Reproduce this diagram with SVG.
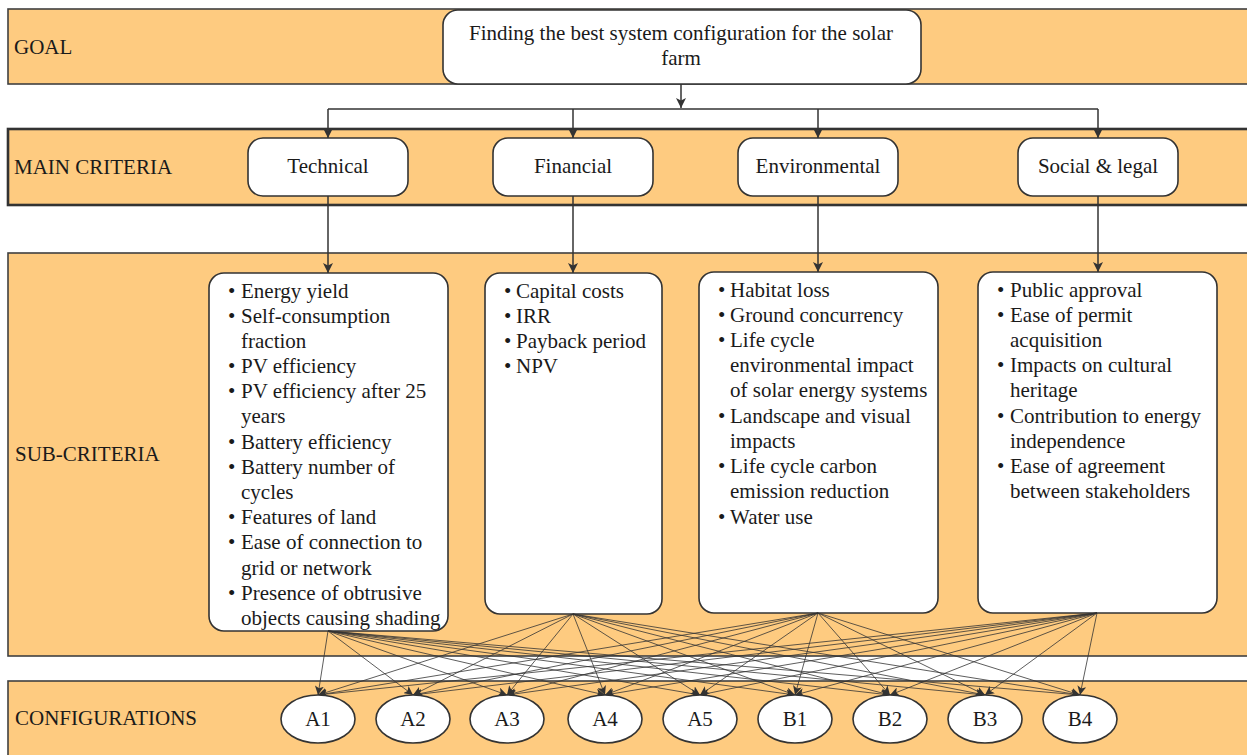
<svg xmlns="http://www.w3.org/2000/svg" width="1247" height="755" viewBox="0 0 1247 755">
<style>
.band{fill:#FECB80;stroke:#404040;stroke-width:1.6}
.band2{fill:#FECB80;stroke:#333;stroke-width:2.6}
.box{fill:#fff;stroke:#333;stroke-width:1.6}
.t{font-family:"Liberation Serif","Times New Roman",serif;font-size:21px;fill:#1a1a1a}
.c{text-anchor:middle}
.ln{stroke:#333;stroke-width:1.5;fill:none}
.mesh{stroke:#333;stroke-width:0.8;fill:none}
</style>
<defs>
<marker id="ah" viewBox="0 0 10 10" refX="10" refY="5" markerWidth="10" markerHeight="10" orient="auto" markerUnits="userSpaceOnUse">
<path d="M0,0 L10,5 L0,10 L2.5,5 z" fill="#333"/>
</marker>
<marker id="ahs" viewBox="0 0 10 10" refX="10" refY="5" markerWidth="9" markerHeight="9" orient="auto" markerUnits="userSpaceOnUse">
<path d="M0,0 L10,5 L0,10 L2.5,5 z" fill="#333"/>
</marker>
</defs>
<rect width="1247" height="755" fill="#fff"/>

<g id="bands">
<rect class="band" x="8" y="9" width="1250" height="75"/>
<rect class="band2" x="8" y="129" width="1250" height="76"/>
<rect class="band" x="8" y="253" width="1250" height="403"/>
<rect class="band" x="8" y="681" width="1250" height="90"/>
<text class="t" x="14" y="54">GOAL</text>
<text class="t" x="14" y="174">MAIN CRITERIA</text>
<text class="t" x="15" y="461">SUB-CRITERIA</text>
<text class="t" x="15" y="725">CONFIGURATIONS</text>
</g>

<g id="goal">
<rect class="box" x="443" y="10" width="478" height="74" rx="15"/>
<text class="t c" x="681" y="40">Finding the best system configuration for the solar</text>
<text class="t c" x="681" y="65">farm</text>
</g>

<g id="technical">
<rect class="box" x="248" y="138" width="160" height="58" rx="15"/>
<text class="t c" x="328" y="173">Technical</text>
</g>
<g id="financial">
<rect class="box" x="493" y="138" width="160" height="58" rx="15"/>
<text class="t c" x="573" y="173">Financial</text>
</g>
<g id="environmental">
<rect class="box" x="738" y="138" width="160" height="58" rx="15"/>
<text class="t c" x="818" y="173">Environmental</text>
</g>
<g id="social">
<rect class="box" x="1018" y="138" width="160" height="58" rx="15"/>
<text class="t c" x="1098" y="173">Social &amp; legal</text>
</g>

<g id="sub-technical">
<rect class="box" x="209" y="273" width="239" height="358" rx="15"/>
<g class="t">
<text x="228" y="298">•</text><text x="241" y="298">Energy yield</text>
<text x="228" y="323">•</text><text x="241" y="323">Self-consumption</text>
<text x="241" y="348">fraction</text>
<text x="228" y="373">•</text><text x="241" y="373">PV efficiency</text>
<text x="228" y="398">•</text><text x="241" y="398">PV efficiency after 25</text>
<text x="241" y="423">years</text>
<text x="228" y="449">•</text><text x="241" y="449">Battery efficiency</text>
<text x="228" y="474">•</text><text x="241" y="474">Battery number of</text>
<text x="241" y="499">cycles</text>
<text x="228" y="524">•</text><text x="241" y="524">Features of land</text>
<text x="228" y="549">•</text><text x="241" y="549">Ease of connection to</text>
<text x="241" y="575">grid or network</text>
<text x="228" y="600">•</text><text x="241" y="600">Presence of obtrusive</text>
<text x="241" y="625">objects causing shading</text>
</g>
</g>

<g id="sub-financial">
<rect class="box" x="485" y="273" width="177" height="341" rx="15"/>
<g class="t">
<text x="504" y="298">•</text><text x="516" y="298">Capital costs</text>
<text x="504" y="323">•</text><text x="516" y="323">IRR</text>
<text x="504" y="348">•</text><text x="516" y="348">Payback period</text>
<text x="504" y="373">•</text><text x="516" y="373">NPV</text>
</g>
</g>

<g id="sub-environmental">
<rect class="box" x="699" y="272" width="239" height="341" rx="15"/>
<g class="t">
<text x="718" y="297">•</text><text x="730" y="297">Habitat loss</text>
<text x="718" y="322">•</text><text x="730" y="322">Ground concurrency</text>
<text x="718" y="347">•</text><text x="730" y="347">Life cycle</text>
<text x="730" y="372">environmental impact</text>
<text x="730" y="397">of solar energy systems</text>
<text x="718" y="423">•</text><text x="730" y="423">Landscape and visual</text>
<text x="730" y="448">impacts</text>
<text x="718" y="473">•</text><text x="730" y="473">Life cycle carbon</text>
<text x="730" y="498">emission reduction</text>
<text x="718" y="524">•</text><text x="730" y="524">Water use</text>
</g>
</g>

<g id="sub-social">
<rect class="box" x="978" y="272" width="239" height="341" rx="15"/>
<g class="t">
<text x="997" y="297">•</text><text x="1010" y="297">Public approval</text>
<text x="997" y="322">•</text><text x="1010" y="322">Ease of permit</text>
<text x="1010" y="347">acquisition</text>
<text x="997" y="372">•</text><text x="1010" y="372">Impacts on cultural</text>
<text x="1010" y="397">heritage</text>
<text x="997" y="423">•</text><text x="1010" y="423">Contribution to energy</text>
<text x="1010" y="448">independence</text>
<text x="997" y="473">•</text><text x="1010" y="473">Ease of agreement</text>
<text x="1010" y="498">between stakeholders</text>
</g>
</g>

<g id="connectors">
<path class="ln" d="M681,84 L681,108" marker-end="url(#ah)"/>
<path class="ln" d="M328,109 L1098,109"/>
<path class="ln" d="M328,109 L328,138" marker-end="url(#ah)"/>
<path class="ln" d="M573,109 L573,138" marker-end="url(#ah)"/>
<path class="ln" d="M818,109 L818,138" marker-end="url(#ah)"/>
<path class="ln" d="M1098,109 L1098,138" marker-end="url(#ah)"/>
<path class="ln" d="M328,196 L328,273" marker-end="url(#ah)"/>
<path class="ln" d="M573,196 L573,273" marker-end="url(#ah)"/>
<path class="ln" d="M818,196 L818,272" marker-end="url(#ah)"/>
<path class="ln" d="M1098,196 L1098,272" marker-end="url(#ah)"/>
<g class="mesh">
<path d="M328,631 L318,695" marker-end="url(#ahs)"/>
<path d="M328,631 L413,695" marker-end="url(#ahs)"/>
<path d="M328,631 L507,695" marker-end="url(#ahs)"/>
<path d="M328,631 L605,695" marker-end="url(#ahs)"/>
<path d="M328,631 L700,695" marker-end="url(#ahs)"/>
<path d="M328,631 L795,695" marker-end="url(#ahs)"/>
<path d="M328,631 L890,695" marker-end="url(#ahs)"/>
<path d="M328,631 L985,695" marker-end="url(#ahs)"/>
<path d="M328,631 L1080,695" marker-end="url(#ahs)"/>
<path d="M573,614 L318,695" marker-end="url(#ahs)"/>
<path d="M573,614 L413,695" marker-end="url(#ahs)"/>
<path d="M573,614 L507,695" marker-end="url(#ahs)"/>
<path d="M573,614 L605,695" marker-end="url(#ahs)"/>
<path d="M573,614 L700,695" marker-end="url(#ahs)"/>
<path d="M573,614 L795,695" marker-end="url(#ahs)"/>
<path d="M573,614 L890,695" marker-end="url(#ahs)"/>
<path d="M573,614 L985,695" marker-end="url(#ahs)"/>
<path d="M573,614 L1080,695" marker-end="url(#ahs)"/>
<path d="M818,613 L318,695" marker-end="url(#ahs)"/>
<path d="M818,613 L413,695" marker-end="url(#ahs)"/>
<path d="M818,613 L507,695" marker-end="url(#ahs)"/>
<path d="M818,613 L605,695" marker-end="url(#ahs)"/>
<path d="M818,613 L700,695" marker-end="url(#ahs)"/>
<path d="M818,613 L795,695" marker-end="url(#ahs)"/>
<path d="M818,613 L890,695" marker-end="url(#ahs)"/>
<path d="M818,613 L985,695" marker-end="url(#ahs)"/>
<path d="M818,613 L1080,695" marker-end="url(#ahs)"/>
<path d="M1097,613 L318,695" marker-end="url(#ahs)"/>
<path d="M1097,613 L413,695" marker-end="url(#ahs)"/>
<path d="M1097,613 L507,695" marker-end="url(#ahs)"/>
<path d="M1097,613 L605,695" marker-end="url(#ahs)"/>
<path d="M1097,613 L700,695" marker-end="url(#ahs)"/>
<path d="M1097,613 L795,695" marker-end="url(#ahs)"/>
<path d="M1097,613 L890,695" marker-end="url(#ahs)"/>
<path d="M1097,613 L985,695" marker-end="url(#ahs)"/>
<path d="M1097,613 L1080,695" marker-end="url(#ahs)"/>
</g>
</g>

<g id="A1"><ellipse class="box" cx="318" cy="719" rx="37" ry="24"/><text class="t c" x="318" y="726">A1</text></g>
<g id="A2"><ellipse class="box" cx="413" cy="719" rx="37" ry="24"/><text class="t c" x="413" y="726">A2</text></g>
<g id="A3"><ellipse class="box" cx="507" cy="719" rx="37" ry="24"/><text class="t c" x="507" y="726">A3</text></g>
<g id="A4"><ellipse class="box" cx="605" cy="719" rx="37" ry="24"/><text class="t c" x="605" y="726">A4</text></g>
<g id="A5"><ellipse class="box" cx="700" cy="719" rx="37" ry="24"/><text class="t c" x="700" y="726">A5</text></g>
<g id="B1"><ellipse class="box" cx="795" cy="719" rx="37" ry="24"/><text class="t c" x="795" y="726">B1</text></g>
<g id="B2"><ellipse class="box" cx="890" cy="719" rx="37" ry="24"/><text class="t c" x="890" y="726">B2</text></g>
<g id="B3"><ellipse class="box" cx="985" cy="719" rx="37" ry="24"/><text class="t c" x="985" y="726">B3</text></g>
<g id="B4"><ellipse class="box" cx="1080" cy="719" rx="37" ry="24"/><text class="t c" x="1080" y="726">B4</text></g>
</svg>
